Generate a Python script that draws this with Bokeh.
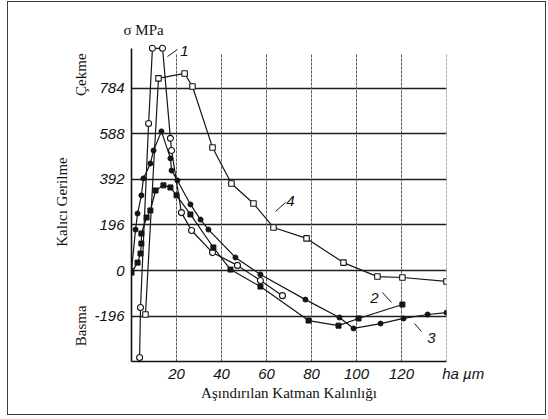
import math
from bokeh.plotting import figure
from bokeh.models import FixedTicker, Label, Range1d, LinearAxis
from bokeh.embed import file_html
from bokeh.resources import INLINE

# ---- data ----
X_TICKS = [20, 40, 60, 80, 100, 120]
X_GRID = [20, 40, 60, 80, 100, 120, 140]
Y_TICKS = [-196, 0, 196, 392, 588, 784]
Y_LABELS = {-196: "-196", 0: "0", 196: "196", 392: "392", 588: "588", 784: "784"}
X_UNIT = "ha µm"

c1_x = [3.6, 4.0, 7.6, 9.3, 13.8, 17.3, 17.8, 22.2, 26.7, 36.0, 47.1, 57.3, 67.1]
c1_y = [-374, -159, 632, 955, 955, 568, 516, 249, 172, 77, 22, -43, -108]

c2_x = [0, 2.7, 4.0, 4.4, 4.4, 6.7, 8.4, 10.7, 14.2, 17.3, 20.0, 26.2, 36.4, 44.0,
        57.3, 78.7, 92.0, 100.9, 120.4]
c2_y = [-9, 34, 73, 116, 159, 228, 258, 344, 366, 357, 323, 241, 99, 4,
        -69, -215, -237, -206, -146]

c3_x = [0, 1.8, 2.7, 4.4, 5.3, 8.4, 9.8, 13.3, 17.3, 17.8, 20.4, 26.2, 30.7, 34.2,
        46.2, 57.3, 77.3, 92.4, 98.7, 110.7, 120.9, 131.6, 140]
c3_y = [0, 176, 245, 323, 396, 460, 516, 598, 482, 430, 387, 284, 219, 176,
        56, -17, -125, -202, -249, -228, -206, -189, -181]

c4_x = [6.2, 12.0, 23.6, 27.1, 36.0, 44.4, 54.2, 63.1, 77.8, 94.2, 109.3, 120.4, 140]
c4_y = [-189, 826, 847, 791, 529, 374, 288, 185, 138, 34, -26, -30, -47]

X0, X1 = 0, 140
Y0, Y1 = -391, 980

# page-pixel helpers for annotation placement (frame: x 131..446, y 42..361)
def dx(px):
    return X0 + (px - 131) * (X1 - X0) / 315.0

def dy(py):
    return Y1 - (py - 42) * (Y1 - Y0) / 319.0

# figure placed at page (8, 2) by CSS margin; spans to (545, 414)
W, H = 537, 412
p = figure(width=W, height=H, x_range=Range1d(X0, X1), y_range=Range1d(Y0, Y1),
           output_backend="svg", toolbar_location=None,
           min_border_left=123, min_border_right=W - 438, min_border_top=40,
           min_border_bottom=H - 359)
p.styles = {"margin-left": "8px", "margin-top": "2px",
            "outline": "1.5px solid #3a3a3a", "outline-offset": "0px"}
p.outline_line_color = None
p.background_fill_color = "white"
p.border_fill_color = "white"

# title "σ MPa"
p.title.text = "σ MPa"
p.title.align = "left"
p.title.offset = -8
p.title.standoff = 9
p.title.text_font = "Liberation Serif"
p.title.text_font_style = "normal"
p.title.text_font_size = "15px"
p.title.text_color = "#111111"

# grids
p.xgrid.visible = False
p.ygrid.ticker = FixedTicker(ticks=Y_TICKS)
p.ygrid.grid_line_color = "#1e1e1e"
p.ygrid.grid_line_width = 1.4
p.segment(x0=X_GRID, y0=[Y0] * len(X_GRID), x1=X_GRID, y1=[dy(53)] * len(X_GRID),
          line_color="#555555", line_width=1, line_dash="3 1")

# x axis (numbers + unit text at the right end)
p.xaxis.ticker = FixedTicker(ticks=X_TICKS + [140])
p.xaxis.major_label_overrides = {140: "\u00a0" * 8 + X_UNIT}
p.xaxis.axis_line_color = "#111111"
p.xaxis.axis_line_width = 1.6
p.xaxis.major_tick_line_color = None
p.xaxis.minor_tick_line_color = None
p.xaxis.major_label_text_font = "Liberation Sans"
p.xaxis.major_label_text_font_style = "italic"
p.xaxis.major_label_text_font_size = "15px"
p.xaxis.major_label_text_color = "#111111"
p.xaxis.major_label_standoff = -3
p.xaxis.axis_label = "Aşındırılan Katman Kalınlığı"
p.xaxis.axis_label_text_font = "Liberation Serif"
p.xaxis.axis_label_text_font_style = "normal"
p.xaxis.axis_label_text_font_size = "15px"
p.xaxis.axis_label_text_color = "#111111"
p.xaxis.axis_label_standoff = 0

# y axis (numbers)
p.yaxis.ticker = FixedTicker(ticks=Y_TICKS)
p.yaxis.major_label_overrides = Y_LABELS
p.yaxis.bounds = (Y0, 955)
p.yaxis.axis_line_color = "#111111"
p.yaxis.axis_line_width = 1.6
p.yaxis.major_tick_line_color = None
p.yaxis.minor_tick_line_color = None
p.yaxis.major_label_text_font = "Liberation Sans"
p.yaxis.major_label_text_font_style = "italic"
p.yaxis.major_label_text_font_size = "15px"
p.yaxis.major_label_text_color = "#111111"
p.yaxis.major_label_standoff = 1

# second left axis: "Çekme" / "Basma" as rotated labels, "Kalıcı Gerilme" as its title
top_pos, bot_pos = round(dy(53)), round(dy(305))
ax2 = LinearAxis(ticker=FixedTicker(ticks=[top_pos, bot_pos]),
                 major_label_overrides={top_pos: "Çekme", bot_pos: "Basma"},
                 major_label_orientation=math.pi / 2,
                 axis_line_color=None, major_tick_line_color=None,
                 minor_tick_line_color=None,
                 major_label_text_font="Liberation Serif",
                 major_label_text_font_size="15px",
                 major_label_text_color="#111111",
                 major_label_standoff=4,
                 axis_label="Kalıcı Gerilme",
                 axis_label_text_font="Liberation Serif",
                 axis_label_text_font_style="normal",
                 axis_label_text_font_size="15px",
                 axis_label_text_color="#111111",
                 axis_label_standoff=-7)
p.add_layout(ax2, "left")

# curves
lc = "#151515"
p.line(c1_x, c1_y, line_color=lc, line_width=1.2)
p.scatter(c1_x, c1_y, marker="circle", size=6, fill_color="white", line_color=lc, line_width=1.1)

p.line(c2_x, c2_y, line_color=lc, line_width=1.2)
p.scatter(c2_x, c2_y, marker="square", size=5, fill_color=lc, line_color=lc)

p.line(c3_x, c3_y, line_color=lc, line_width=1.2)
p.scatter(c3_x, c3_y, marker="circle", size=5, fill_color=lc, line_color=lc)

p.line(c4_x, c4_y, line_color=lc, line_width=1.2)
p.scatter(c4_x, c4_y, marker="square", size=5.5, fill_color="white", line_color=lc, line_width=1.1)

# curve number leaders
leaders = [((167, 56), (177, 49)), ((275, 211), (285, 202)),
           ((382, 292), (391, 302)), ((414, 323), (421, 331))]
p.segment(x0=[dx(a[0]) for a, b in leaders], y0=[dy(a[1]) for a, b in leaders],
          x1=[dx(b[0]) for a, b in leaders], y1=[dy(b[1]) for a, b in leaders],
          line_color=lc, line_width=1)

for t, px, py in [("1", 184, 50), ("4", 290, 200), ("2", 374, 297), ("3", 431, 337)]:
    p.add_layout(Label(x=dx(px), y=dy(py), text=t, text_font="Liberation Sans",
                       text_font_size="15px", text_font_style="italic",
                       text_align="center", text_baseline="middle", text_color="#111111"))

open("out.html", "w").write(file_html(p, INLINE))
